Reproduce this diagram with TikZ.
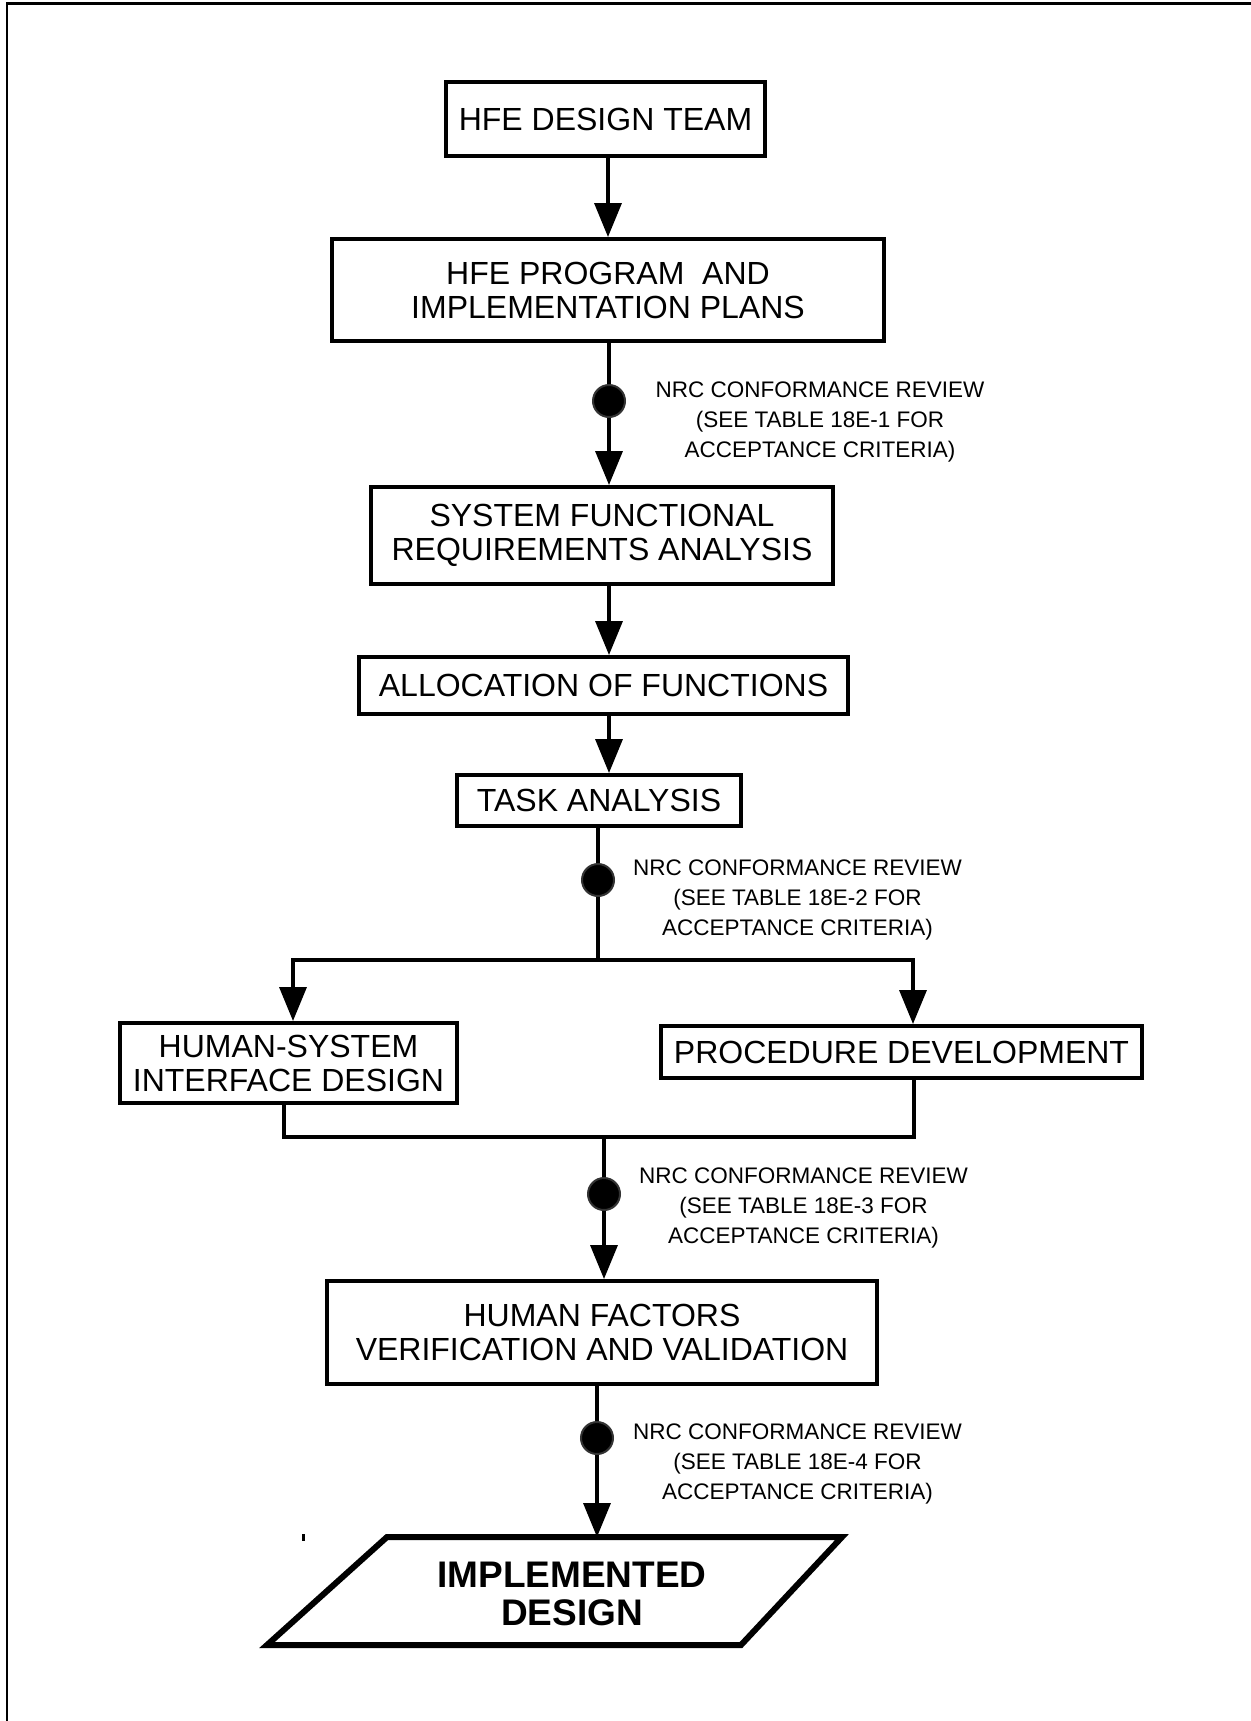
\documentclass[tikz,border=0pt]{standalone}
\usepackage{fontspec}
\setmainfont{Liberation Sans}
\usetikzlibrary{arrows.meta,calc}
\begin{document}
\begin{tikzpicture}[x=0.5pt,y=-0.5pt,
  box/.style={draw,line width=2pt,inner sep=0pt,align=center,font=\fontsize{16}{17}\selectfont},
  review/.style={align=center,inner sep=0pt,font=\fontsize{11.25}{15}\selectfont},
  dot/.style={circle,fill=black,draw=black!80,line width=1pt,minimum size=16pt,inner sep=0pt},
  conn/.style={line width=1.75pt,line join=miter},
  arr/.style={conn,-{Triangle[length=17pt,width=13.5pt]}},
  final/.style={align=center,inner sep=0pt,font=\fontsize{18.5}{19}\selectfont\bfseries}]
\useasboundingbox (0,0) rectangle (1251,1721);
% frame (top and left only)
\draw[line width=1.5pt] (6,3.4) -- (1251,3.4);
\draw[line width=1pt] (7,2) -- (7,1721);

% boxes
\node[box,minimum width=159.5pt,minimum height=37pt] (b1) at (605.5,119) {HFE DESIGN TEAM};
\node[box,minimum width=276pt,minimum height=51pt] (b2) at (608,290) {HFE PROGRAM~ AND\\IMPLEMENTATION PLANS};
\node[box,minimum width=231pt,minimum height=48.5pt] (b3) at (602,535.5) {SYSTEM FUNCTIONAL\\REQUIREMENTS ANALYSIS};
\node[box,minimum width=244.5pt,minimum height=28.5pt] (b4) at (603.5,685.5) {ALLOCATION OF FUNCTIONS};
\node[box,minimum width=142pt,minimum height=25.5pt] (b5) at (599,800.5) {TASK ANALYSIS};
\node[box,minimum width=168.5pt,minimum height=40pt] (b6) at (288.5,1063) {HUMAN-SYSTEM\\INTERFACE DESIGN};
\node[box,minimum width=240.5pt,minimum height=26pt] (b7) at (901.5,1052) {PROCEDURE DEVELOPMENT};
\node[box,minimum width=275pt,minimum height=51.5pt] (b8) at (602,1332.5) {HUMAN FACTORS\\VERIFICATION AND VALIDATION};

% review dots
\node[dot] (c1) at (609,401) {};
\node[dot] (c2) at (598,880) {};
\node[dot] (c3) at (604,1194) {};
\node[dot] (c4) at (597,1438) {};

% review texts
\node[review] (r1) at (820,422) {NRC CONFORMANCE REVIEW\\(SEE TABLE 18E-1 FOR\\ACCEPTANCE CRITERIA)};
\node[review] (r2) at (797.5,900) {NRC CONFORMANCE REVIEW\\(SEE TABLE 18E-2 FOR\\ACCEPTANCE CRITERIA)};
\node[review] (r3) at (803.5,1208) {NRC CONFORMANCE REVIEW\\(SEE TABLE 18E-3 FOR\\ACCEPTANCE CRITERIA)};
\node[review] (r4) at (797.5,1464) {NRC CONFORMANCE REVIEW\\(SEE TABLE 18E-4 FOR\\ACCEPTANCE CRITERIA)};

% implemented design
\draw[line width=3pt,line join=miter] (387,1537) -- (842,1537) -- (741,1645) -- (267,1645) -- cycle;
\node[final] (impl) at (572,1594) {IMPLEMENTED\\DESIGN};
\coordinate (ptop) at (597,1537);
\fill (302,1534) rectangle (305,1541);

% junction coordinates
\coordinate (jl) at (293,960);
\coordinate (jr) at (913,960);
\coordinate (ml) at (284,1137);
\coordinate (mr) at (914,1137);

% connectors
\draw[arr] (b2.north |- b1.south) -- (b2.north);
\draw[conn] (b2.south -| c1) -- (c1.north);
\draw[arr] (c1.south) -- (b3.north -| c1);
\draw[arr] (b3.south -| c1) -- (b4.north -| c1);
\draw[arr] (b4.south -| c1) -- (b5.north -| c1);
\draw[conn] (b5.south -| c2) -- (c2.north);
\draw[conn] (c2.south) -- (c2 |- jl);
\draw[arr] (c2 |- jl) -- (jl) -- (b6.north -| jl);
\draw[arr] (c2 |- jr) -- (jr) -- (b7.north -| jr);
\draw[conn] (b6.south -| ml) -- (ml) -- (mr) -- (b7.south -| mr);
\draw[conn] (c3 |- ml) -- (c3.north);
\draw[arr] (c3.south) -- (b8.north -| c3);
\draw[conn] (b8.south -| c4) -- (c4.north);
\draw[arr] (c4.south) -- (ptop);
\end{tikzpicture}
\end{document}
